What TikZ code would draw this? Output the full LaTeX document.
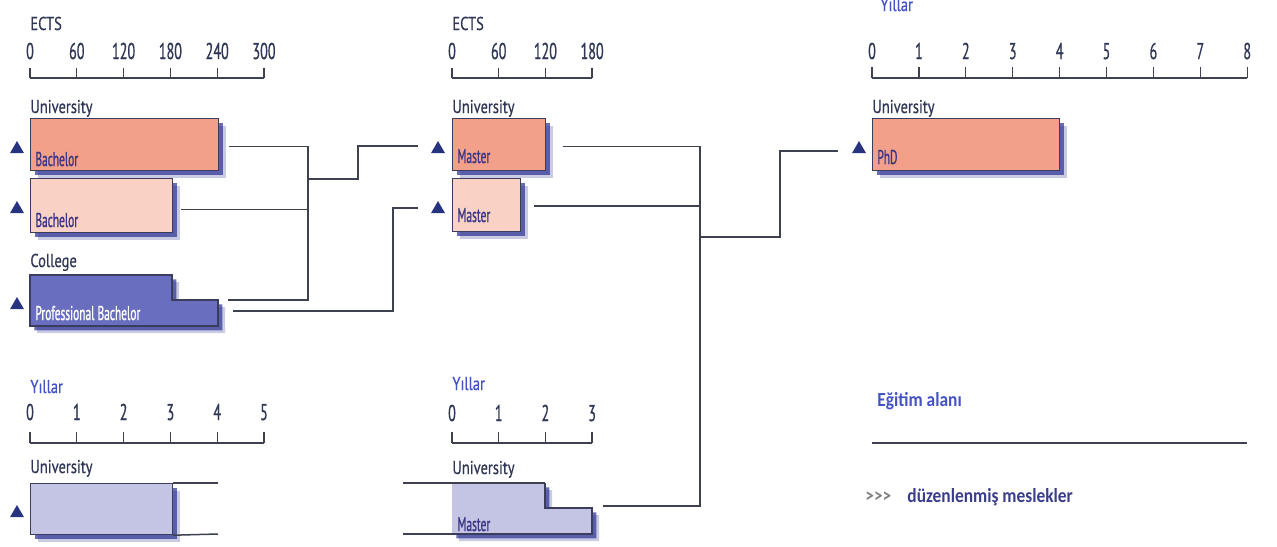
\documentclass[tikz,border=0pt]{standalone}
\usepackage{fontspec}
\setmainfont{PT Sans}
\newfontfamily\headfont[FakeStretch=0.78,FakeBold=0.6]{PT Sans}
\newfontfamily\numfont[FakeStretch=0.62,FakeBold=0.7]{PT Sans}
\newfontfamily\boxfont[FakeStretch=0.57,FakeBold=0.8]{PT Sans}
\newfontfamily\legfont[FakeStretch=0.87]{Carlito}
\usetikzlibrary{shapes.geometric,shadows}

\definecolor{inkcol}{HTML}{2F3656}
\definecolor{bluetxt}{HTML}{4352C4}
\definecolor{legdark}{HTML}{3A3D8C}
\definecolor{salmon}{HTML}{F3A08B}
\definecolor{peach}{HTML}{F9D1C5}
\definecolor{slate}{HTML}{6A6EBE}
\definecolor{lavender}{HTML}{C4C5E5}
\definecolor{navy}{HTML}{283090}
\definecolor{edgecol}{HTML}{3C3C5E}
\definecolor{linecol}{HTML}{3E4250}
\definecolor{tricol}{HTML}{27337E}
\definecolor{lbltxt}{HTML}{3A3585}

\begin{document}
\begin{tikzpicture}[x=0.5pt,y=-0.5pt,
  shade box/.style={drop shadow={shadow xshift=3.5pt,shadow yshift=-3.5pt,fill=navy,opacity=0.25},
    drop shadow={shadow xshift=2.2pt,shadow yshift=-2.2pt,fill=navy,opacity=0.7}},
  box/.style={shade box,draw=edgecol,line width=0.6pt,anchor=north west,inner sep=0pt},
  conn/.style={draw=linecol,line width=0.75pt},
  axis/.style={draw=linecol,line width=0.65pt},
  tri/.style={regular polygon,regular polygon sides=3,fill=tricol,inner sep=0pt,minimum size=8pt},
  head/.style={font=\headfont\fontsize{9.3}{10}\selectfont,text=inkcol,anchor=base west,inner sep=0pt},
  yil/.style={head,text=bluetxt},
  num/.style={font=\numfont\fontsize{11.4}{12}\selectfont,text=inkcol,anchor=base,inner sep=0pt},
  lbl/.style={font=\boxfont\fontsize{10}{11}\selectfont,text=lbltxt,anchor=base west,inner sep=0pt},
  leg/.style={font=\legfont\bfseries\fontsize{10}{11}\selectfont,anchor=base west,inner sep=0pt}]
  \useasboundingbox (0,0) rectangle (1277,546);

  \node[head] (ects1) at (30,30) {ECTS};
  \foreach \v [count=\i from 0] in {0,60,120,180,240,300} {
    \draw[axis] ({30+46.8*\i},68) -- ({30+46.8*\i},78);
    \node[num] (ea\i) at ({30+46.8*\i},59) {\v};
  }
  \draw[axis] (30,78) -- (264,78);

  \node[head] (uni1) at (30,113) {University};
  \node[box,fill=salmon,minimum width=94pt,minimum height=26pt] (b1) at (30,118) {};
  \node[lbl] (lb1) at (35,166) {Bachelor};
  \node[box,fill=peach,minimum width=71pt,minimum height=27pt] (b2) at (30,178) {};
  \node[lbl] (lb2) at (35,227) {Bachelor};
  \node[head] (col) at (30,267) {College};
  \path[shade box,fill=slate,draw=edgecol,line width=0.6pt]
    (30,275) -- (172,275) -- (172,300) -- (218,300) -- (218,326) -- (30,326) -- cycle;
  \coordinate (pb) at (218,300);
  \node[lbl,text=white] (lpb) at (35,320) {Professional Bachelor};
  \node[tri] (tr1) at (17,149) {};
  \node[tri] (tr2) at (17,209) {};
  \node[tri] (tr3) at (17,305) {};

  \node[yil] (yil1) at (30,393) {Yıllar};
  \foreach \v in {0,...,5} {
    \draw[axis] ({30+46.8*\v},432) -- ({30+46.8*\v},443);
    \node[num] (ya\v) at ({30+46.8*\v},420) {\v};
  }
  \draw[axis] (30,443) -- (264,443);
  \node[head] (uni4) at (30,473) {University};
  \node[box,fill=lavender,minimum width=71pt,minimum height=25.5pt] (b3) at (30,483) {};
  \coordinate (b3a) at (218,483);
  \coordinate (b3b) at (218,534);
  \draw[conn] (b3.north east) -- (b3a);
  \draw[conn] (b3.south east) -- (b3b);
  \node[tri] (tr7) at (17,513) {};

  \node[head] (ects2) at (452,30) {ECTS};
  \foreach \v [count=\i from 0] in {0,60,120,180} {
    \draw[axis] ({452+46.7*\i},68) -- ({452+46.7*\i},78);
    \node[num] (eb\i) at ({452+46.7*\i},59) {\v};
  }
  \draw[axis] (452,78) -- (592,78);
  \node[head] (uni2) at (452,113) {University};
  \node[box,fill=salmon,minimum width=46.5pt,minimum height=26pt] (m1) at (452,118) {};
  \node[lbl] (lm1) at (457,163) {Master};
  \node[box,fill=peach,minimum width=34pt,minimum height=26.5pt] (m2) at (452,178) {};
  \node[lbl] (lm2) at (457,222) {Master};
  \node[tri] (tr4) at (438,149) {};
  \node[tri] (tr5) at (438,209) {};

  \node[yil] (yil2) at (452,390) {Yıllar};
  \foreach \v in {0,...,3} {
    \draw[axis] ({452+46.7*\v},432) -- ({452+46.7*\v},443);
    \node[num] (yb\v) at ({452+46.7*\v},421) {\v};
  }
  \draw[axis] (452,443) -- (592,443);
  \node[head] (uni5) at (452,474) {University};
  \path[shade box,fill=lavender]
    (452,483) -- (545,483) -- (545,508) -- (592,508) -- (592,534) -- (452,534) -- cycle;
  \draw[draw=edgecol,line width=0.6pt] (545,483) -- (545,508) -- (592,508) -- (592,534) -- (452,534);
  \coordinate (mb) at (592,506);
  \coordinate (mbl) at (403,483);
  \coordinate (mbr) at (403,534);
  \draw[conn] (mbl) -- (545,483);
  \draw[conn] (mbr) -- (452,534);
  \node[lbl] (lmb) at (457,531) {Master};

  \node[yil] (yil3) at (880,11) {Yıllar};
  \foreach \v in {0,...,8} {
    \draw[axis] ({872+46.9*\v},67) -- ({872+46.9*\v},78);
    \node[num] (yc\v) at ({872+46.9*\v},59) {\v};
  }
  \draw[axis] (872,78) -- (1247,78);
  \node[head] (uni3) at (872,113) {University};
  \node[box,fill=salmon,minimum width=93.5pt,minimum height=26pt] (phd) at (872,118) {};
  \node[lbl] (lphd) at (877,164) {PhD};
  \node[tri] (tr6) at (859,149) {};

  \coordinate (j1) at (308,300);
  \coordinate (j2) at (358,179);
  \coordinate (m1in) at (418,146);
  \coordinate (j3) at (393,311);
  \coordinate (m2in) at (418,208);
  \coordinate (j4) at (700,506);
  \coordinate (j5) at (780,237);
  \coordinate (phdin) at (838,151);
  \draw[conn] ([xshift=5pt,yshift=-1pt]b1.east) -| (j1) -- ([xshift=5pt]pb);
  \draw[conn] ([xshift=4pt,yshift=-2pt]b2.east) -- ++(128,0);
  \draw[conn] (j2 -| j1) -- (j2) |- (m1in);
  \draw[conn] ([xshift=7.5pt,yshift=-5.5pt]pb) -| (j3) |- (m2in);
  \draw[conn] ([xshift=8.5pt,yshift=-1pt]m1.east) -| (j4) -- ([xshift=5.5pt]mb);
  \draw[conn] ([xshift=6.5pt,yshift=-0.5pt]m2.east) -- ++(167,0);
  \draw[conn] (j5 -| j4) -- (j5) |- (phdin);

  \node[leg,text=bluetxt] (leg1) at (877,406) {Eğitim alanı};
  \coordinate (la) at (872,443);
  \coordinate (lb) at (1247,443);
  \draw[axis,line width=0.8pt] (la) -- (lb);
  \node[leg,text=gray] (leg2) at (865,502) {>>>};
  \node[leg,text=legdark] (leg3) at (907,502) {düzenlenmiş meslekler};
\end{tikzpicture}
\end{document}
